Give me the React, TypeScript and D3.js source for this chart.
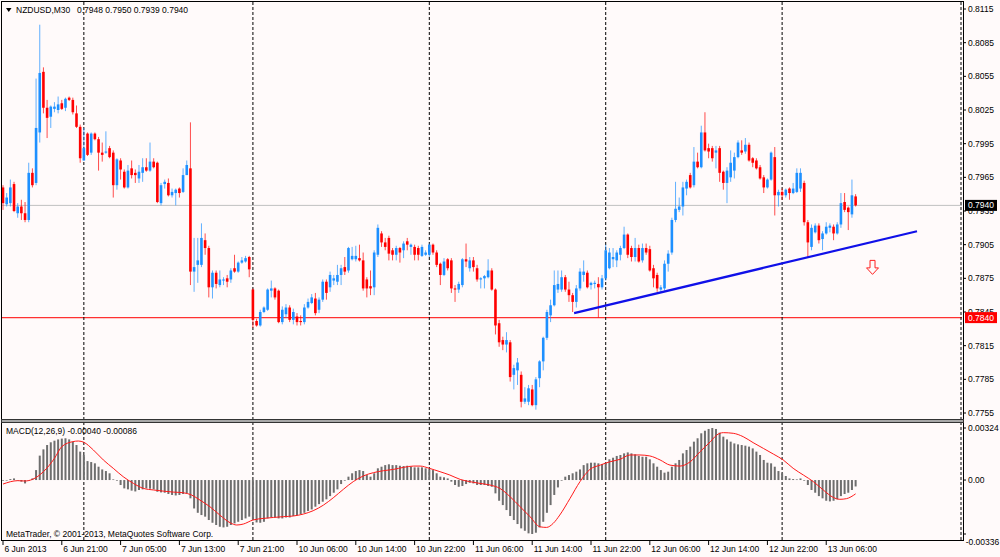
import React, { useEffect, useRef } from "react";
import * as d3 from "d3";

// NZDUSD M30, 6 Jun 13:00 .. 13 Jun 10:00 (233 bars)
const opens = [
  0.7956, 0.7941, 0.7942, 0.7959, 0.7933, 0.7939, 0.7933, 0.7927, 0.7969, 0.7960,
  0.8005, 0.8059, 0.8027, 0.8019, 0.8026, 0.8025, 0.8031, 0.8027, 0.8036, 0.8034,
  0.8022, 0.8010, 0.7980, 0.8004, 0.7987, 0.8004, 0.7999, 0.7987, 0.7987, 0.7991,
  0.7987, 0.7958, 0.7980, 0.7970, 0.7956, 0.7973, 0.7969, 0.7964, 0.7969, 0.7974,
  0.7971, 0.7979, 0.7978, 0.7942, 0.7959, 0.7960, 0.7949, 0.7951, 0.7955, 0.7952,
  0.7967, 0.7973, 0.7881, 0.7887, 0.7887, 0.7909, 0.7902, 0.7867, 0.7880, 0.7869,
  0.7873, 0.7875, 0.7874, 0.7884, 0.7881, 0.7889, 0.7890, 0.7894, 0.7865, 0.7837,
  0.7833, 0.7845, 0.7847, 0.7864, 0.7866, 0.7864, 0.7836, 0.7843, 0.7849, 0.7838,
  0.7841, 0.7837, 0.7836, 0.7849, 0.7853, 0.7857, 0.7847, 0.7856, 0.7872, 0.7867,
  0.7873, 0.7872, 0.7878, 0.7885, 0.7882, 0.7892, 0.7892, 0.7893, 0.7891, 0.7874,
  0.7868, 0.7867, 0.7896, 0.7915, 0.7907, 0.7911, 0.7900, 0.7896, 0.7902, 0.7900,
  0.7908, 0.7903, 0.7903, 0.7902, 0.7895, 0.7896, 0.7896, 0.7905, 0.7898, 0.7888,
  0.7878, 0.7892, 0.7891, 0.7866, 0.7865, 0.7869, 0.7892, 0.7884, 0.7891, 0.7884,
  0.7874, 0.7875, 0.7876, 0.7882, 0.7865, 0.7835, 0.7820, 0.7816, 0.7818, 0.7789,
  0.7793, 0.7789, 0.7765, 0.7765, 0.7776, 0.7762, 0.7786, 0.7801, 0.7822, 0.7842,
  0.7851, 0.7865, 0.7865, 0.7876, 0.7865, 0.7860, 0.7854, 0.7866, 0.7878, 0.7880,
  0.7869, 0.7870, 0.7870, 0.7867, 0.7875, 0.7884, 0.7892, 0.7891, 0.7896, 0.7902,
  0.7914, 0.7902, 0.7894, 0.7902, 0.7891, 0.7902, 0.7901, 0.7884, 0.7878, 0.7865,
  0.7866, 0.7888, 0.7898, 0.7927, 0.7936, 0.7939, 0.7955, 0.7967, 0.7958, 0.7979,
  0.7974, 0.8005, 0.7991, 0.7991, 0.7987, 0.7991, 0.7970, 0.7960, 0.7965, 0.7971,
  0.7983, 0.7989, 0.7988, 0.7994, 0.7982, 0.7980, 0.7974, 0.7965, 0.7956, 0.7963,
  0.7983, 0.7949, 0.7952, 0.7949, 0.7955, 0.7951, 0.7952, 0.7955, 0.7960, 0.7925,
  0.7903, 0.7916, 0.7922, 0.7910, 0.7915, 0.7920, 0.7921, 0.7915, 0.7923, 0.7943,
  0.7938, 0.7932, 0.7948,
];
const highs = [
  0.7958, 0.7951, 0.7963, 0.7961, 0.7942, 0.7945, 0.7943, 0.7978, 0.7973, 0.8053,
  0.8101, 0.8063, 0.8034, 0.8029, 0.8032, 0.8037, 0.8034, 0.8036, 0.8037, 0.8036,
  0.8029, 0.8012, 0.8009, 0.8005, 0.8005, 0.8005, 0.8001, 0.7996, 0.8006, 0.7993,
  0.7989, 0.7982, 0.7982, 0.7972, 0.7976, 0.7980, 0.7972, 0.7976, 0.7982, 0.7982,
  0.7996, 0.7982, 0.7979, 0.7960, 0.7963, 0.7964, 0.7955, 0.7955, 0.7956, 0.7973,
  0.7980, 0.8014, 0.7911, 0.7911, 0.7924, 0.7915, 0.7904, 0.7882, 0.7882, 0.7882,
  0.7876, 0.7878, 0.7884, 0.7896, 0.7890, 0.7894, 0.7895, 0.7895, 0.7866, 0.7839,
  0.7847, 0.7850, 0.7866, 0.7873, 0.7867, 0.7865, 0.7850, 0.7852, 0.7851, 0.7848,
  0.7844, 0.7842, 0.7852, 0.7857, 0.7861, 0.7862, 0.7858, 0.7874, 0.7874, 0.7881,
  0.7878, 0.7887, 0.7887, 0.7894, 0.7903, 0.7903, 0.7904, 0.7905, 0.7898, 0.7876,
  0.7882, 0.7900, 0.7923, 0.7917, 0.7911, 0.7913, 0.7902, 0.7904, 0.7903, 0.7908,
  0.7911, 0.7906, 0.7905, 0.7904, 0.7905, 0.7900, 0.7906, 0.7906, 0.7900, 0.7889,
  0.7893, 0.7893, 0.7893, 0.7869, 0.7872, 0.7893, 0.7906, 0.7894, 0.7894, 0.7887,
  0.7876, 0.7878, 0.7892, 0.7884, 0.7866, 0.7838, 0.7823, 0.7827, 0.7820, 0.7798,
  0.7804, 0.7792, 0.7778, 0.7780, 0.7780, 0.7787, 0.7802, 0.7823, 0.7847, 0.7856,
  0.7882, 0.7882, 0.7882, 0.7878, 0.7872, 0.7862, 0.7869, 0.7884, 0.7891, 0.7882,
  0.7872, 0.7873, 0.7876, 0.7878, 0.7905, 0.7902, 0.7902, 0.7900, 0.7904, 0.7921,
  0.7915, 0.7904, 0.7911, 0.7905, 0.7906, 0.7906, 0.7904, 0.7887, 0.7880, 0.7869,
  0.7891, 0.7900, 0.7929, 0.7961, 0.7947, 0.7961, 0.7963, 0.7969, 0.7992, 0.7987,
  0.8011, 0.8023, 0.7995, 0.7993, 0.7993, 0.7993, 0.7971, 0.7974, 0.7989, 0.7987,
  0.7998, 0.7998, 0.8000, 0.7996, 0.7983, 0.7982, 0.7976, 0.7967, 0.7964, 0.7988,
  0.7992, 0.7954, 0.7955, 0.7955, 0.7956, 0.7960, 0.7973, 0.7973, 0.7962, 0.7927,
  0.7923, 0.7924, 0.7924, 0.7917, 0.7925, 0.7924, 0.7923, 0.7925, 0.7951, 0.7951,
  0.7939, 0.7963, 0.7950,
];
const lows = [
  0.7936, 0.7939, 0.7939, 0.7934, 0.7929, 0.7927, 0.7925, 0.7925, 0.7956, 0.7958,
  0.7996, 0.8022, 0.8000, 0.8009, 0.8023, 0.8022, 0.8025, 0.8024, 0.8033, 0.8021,
  0.8009, 0.7978, 0.7980, 0.7984, 0.7985, 0.7998, 0.7971, 0.7979, 0.7986, 0.7982,
  0.7947, 0.7954, 0.7963, 0.7955, 0.7955, 0.7964, 0.7960, 0.7960, 0.7961, 0.7970,
  0.7970, 0.7973, 0.7942, 0.7940, 0.7955, 0.7948, 0.7947, 0.7940, 0.7947, 0.7951,
  0.7967, 0.7869, 0.7863, 0.7871, 0.7885, 0.7896, 0.7858, 0.7857, 0.7866, 0.7867,
  0.7869, 0.7867, 0.7871, 0.7880, 0.7880, 0.7888, 0.7889, 0.7876, 0.7831, 0.7832,
  0.7832, 0.7844, 0.7846, 0.7858, 0.7856, 0.7835, 0.7834, 0.7840, 0.7836, 0.7834,
  0.7833, 0.7833, 0.7834, 0.7848, 0.7852, 0.7842, 0.7844, 0.7854, 0.7856, 0.7863,
  0.7869, 0.7869, 0.7869, 0.7878, 0.7880, 0.7891, 0.7890, 0.7890, 0.7864, 0.7858,
  0.7860, 0.7860, 0.7894, 0.7903, 0.7900, 0.7891, 0.7891, 0.7891, 0.7889, 0.7893,
  0.7900, 0.7896, 0.7891, 0.7891, 0.7894, 0.7895, 0.7894, 0.7896, 0.7885, 0.7869,
  0.7877, 0.7882, 0.7862, 0.7854, 0.7862, 0.7867, 0.7885, 0.7881, 0.7881, 0.7872,
  0.7866, 0.7866, 0.7875, 0.7864, 0.7825, 0.7814, 0.7811, 0.7809, 0.7783, 0.7776,
  0.7780, 0.7760, 0.7763, 0.7762, 0.7761, 0.7758, 0.7778, 0.7793, 0.7820, 0.7836,
  0.7850, 0.7862, 0.7863, 0.7863, 0.7854, 0.7845, 0.7849, 0.7864, 0.7872, 0.7866,
  0.7865, 0.7866, 0.7840, 0.7865, 0.7873, 0.7883, 0.7885, 0.7885, 0.7891, 0.7901,
  0.7893, 0.7890, 0.7890, 0.7889, 0.7889, 0.7896, 0.7881, 0.7867, 0.7863, 0.7862,
  0.7864, 0.7881, 0.7896, 0.7925, 0.7934, 0.7931, 0.7949, 0.7955, 0.7956, 0.7973,
  0.7973, 0.7988, 0.7982, 0.7979, 0.7973, 0.7961, 0.7954, 0.7942, 0.7961, 0.7964,
  0.7982, 0.7985, 0.7986, 0.7979, 0.7974, 0.7972, 0.7963, 0.7951, 0.7955, 0.7962,
  0.7931, 0.7939, 0.7945, 0.7947, 0.7945, 0.7950, 0.7951, 0.7952, 0.7922, 0.7894,
  0.7900, 0.7915, 0.7906, 0.7900, 0.7914, 0.7916, 0.7909, 0.7914, 0.7920, 0.7934,
  0.7918, 0.7929, 0.7939,
];
const closes = [
  0.7942, 0.7947, 0.7956, 0.7935, 0.7939, 0.7933, 0.7927, 0.7969, 0.7958, 0.8009,
  0.8058, 0.8027, 0.8018, 0.8028, 0.8028, 0.8030, 0.8026, 0.8035, 0.8034, 0.8023,
  0.8010, 0.7982, 0.7991, 0.7985, 0.8004, 0.7999, 0.7987, 0.7985, 0.7988, 0.7983,
  0.7958, 0.7981, 0.7972, 0.7956, 0.7971, 0.7967, 0.7967, 0.7970, 0.7974, 0.7971,
  0.7979, 0.7974, 0.7943, 0.7958, 0.7961, 0.7949, 0.7952, 0.7954, 0.7951, 0.7967,
  0.7976, 0.7881, 0.7885, 0.7891, 0.7911, 0.7902, 0.7867, 0.7880, 0.7870, 0.7874,
  0.7874, 0.7872, 0.7882, 0.7881, 0.7889, 0.7891, 0.7893, 0.7883, 0.7838, 0.7833,
  0.7845, 0.7849, 0.7865, 0.7866, 0.7858, 0.7836, 0.7847, 0.7849, 0.7838, 0.7845,
  0.7836, 0.7836, 0.7849, 0.7854, 0.7858, 0.7844, 0.7856, 0.7872, 0.7862, 0.7878,
  0.7875, 0.7878, 0.7884, 0.7881, 0.7902, 0.7895, 0.7895, 0.7891, 0.7866, 0.7866,
  0.7866, 0.7898, 0.7920, 0.7907, 0.7903, 0.7897, 0.7896, 0.7902, 0.7898, 0.7906,
  0.7905, 0.7905, 0.7896, 0.7896, 0.7903, 0.7898, 0.7905, 0.7898, 0.7887, 0.7878,
  0.7890, 0.7884, 0.7866, 0.7865, 0.7870, 0.7892, 0.7890, 0.7891, 0.7885, 0.7874,
  0.7875, 0.7877, 0.7882, 0.7865, 0.7833, 0.7818, 0.7816, 0.7820, 0.7787, 0.7795,
  0.7800, 0.7765, 0.7768, 0.7777, 0.7762, 0.7785, 0.7801, 0.7822, 0.7845, 0.7851,
  0.7869, 0.7870, 0.7876, 0.7865, 0.7860, 0.7854, 0.7866, 0.7881, 0.7881, 0.7867,
  0.7871, 0.7871, 0.7867, 0.7875, 0.7900, 0.7898, 0.7894, 0.7898, 0.7902, 0.7914,
  0.7896, 0.7894, 0.7902, 0.7890, 0.7902, 0.7898, 0.7882, 0.7875, 0.7866, 0.7867,
  0.7888, 0.7897, 0.7927, 0.7937, 0.7939, 0.7956, 0.7961, 0.7956, 0.7979, 0.7974,
  0.8005, 0.7989, 0.7988, 0.7982, 0.7989, 0.7969, 0.7960, 0.7971, 0.7978, 0.7983,
  0.7996, 0.7987, 0.7994, 0.7980, 0.7978, 0.7973, 0.7964, 0.7956, 0.7963, 0.7987,
  0.7949, 0.7952, 0.7949, 0.7954, 0.7951, 0.7955, 0.7969, 0.7969, 0.7925, 0.7907,
  0.7920, 0.7922, 0.7909, 0.7915, 0.7921, 0.7922, 0.7915, 0.7923, 0.7942, 0.7936,
  0.7934, 0.7949, 0.7940,
];

// MACD(12,26,9) main values, one per bar
const macdMain = [
  -0.00004, 0.0, 0.00006, 0.0001, 0.0, -0.0001, -0.00021, -0.00004, 0.0001, 0.00062,
  0.00152, 0.00191, 0.00218, 0.00235, 0.00245, 0.00253, 0.00258, 0.0026, 0.00253, 0.00239,
  0.00218, 0.00177, 0.00156, 0.00118, 0.00112, 0.00104, 0.00083, 0.00066, 0.00056, 0.00042,
  0.00004, -0.00004, -0.00031, -0.00052, -0.00058, -0.00066, -0.00071, -0.00062, -0.00058, -0.00052,
  -0.00054, -0.00058, -0.00073, -0.00077, -0.00079, -0.00087, -0.00093, -0.00096, -0.00093, -0.00087,
  -0.00083, -0.00114, -0.00177, -0.00204, -0.00218, -0.00228, -0.00249, -0.00266, -0.0028, -0.00291,
  -0.00295, -0.00291, -0.0028, -0.0027, -0.0026, -0.00249, -0.00239, -0.00228, -0.00249, -0.00264,
  -0.00266, -0.0026, -0.00239, -0.00233, -0.00233, -0.00239, -0.00239, -0.00233, -0.00233, -0.00224,
  -0.00218, -0.00212, -0.00204, -0.00193, -0.00183, -0.00166, -0.0015, -0.00135, -0.0012, -0.001,
  -0.00079, -0.00058, -0.00025, -0.00004, 0.00021, 0.00042, 0.00056, 0.00062, 0.00056, 0.00031,
  0.00021, 0.00042, 0.00073, 0.00083, 0.00093, 0.00098, 0.00093, 0.00093, 0.00089, 0.00087,
  0.00089, 0.00083, 0.00079, 0.00079, 0.00079, 0.00073, 0.00066, 0.00062, 0.00042, 0.00021,
  0.00017, 0.0001, -0.0001, -0.00031, -0.00042, -0.00037, -0.00025, -0.00017, -0.00021, -0.00031,
  -0.00031, -0.00031, -0.00037, -0.00042, -0.00083, -0.00129, -0.00156, -0.00187, -0.00224, -0.00249,
  -0.00274, -0.00301, -0.00316, -0.00332, -0.00336, -0.00328, -0.00295, -0.0026, -0.00204, -0.00156,
  -0.00093, -0.00046, -0.00004, 0.00021, 0.00031, 0.00042, 0.00052, 0.00066, 0.00093, 0.00104,
  0.00108, 0.00108, 0.00104, 0.001, 0.00108, 0.00129, 0.00139, 0.0015, 0.00156, 0.00166,
  0.00172, 0.00166, 0.0016, 0.0015, 0.00145, 0.00145, 0.00129, 0.00104, 0.00083, 0.00062,
  0.00046, 0.00052, 0.00083, 0.00104, 0.00125, 0.00166, 0.00187, 0.00208, 0.00239, 0.0026,
  0.00291, 0.00307, 0.00318, 0.00324, 0.00318, 0.00295, 0.0027, 0.00253, 0.00239, 0.00228,
  0.00222, 0.00218, 0.00214, 0.00208, 0.00197, 0.00177, 0.00156, 0.00125, 0.00108, 0.00104,
  0.00083, 0.00056, 0.00042, 0.00025, 0.0001, 0.00006, 0.00004, 0.0001, -0.00004, -0.00031,
  -0.00062, -0.00079, -0.001, -0.00114, -0.00129, -0.00133, -0.00129, -0.0012, -0.001, -0.00087,
  -0.00079, -0.00062, -0.0004,
];

// signal line, read at these bar positions
const signalBars = [
  0, 4, 6, 8, 11, 14, 16, 19, 20.5, 22, 24.6, 27.3, 30, 32.7, 35.5, 38.2, 41, 43.6, 46.3, 49,
  51.3, 53.6, 56.3, 59, 61.8, 63.6, 65.4, 68, 70.8, 73.6, 76.3, 79, 81.7, 84.4, 87.2, 90, 92.6,
  95.3, 98, 100.8, 103.5, 106.2, 109, 111.7, 113.5, 116, 118.9, 121.6, 124.4, 127, 129.8, 132.5,
  135.2, 138, 140.7, 143.4, 146.1, 147.9, 149.7, 151.5, 154.3, 157, 159.7, 162.5, 165.2, 167.9,
  170.6, 173.3, 176, 178.8, 181.5, 184.2, 187, 189.7, 192.5, 194.2, 196, 198.7, 201.4, 204.1,
  206.9, 209.6, 212.3, 215, 217.8, 220.5, 223.2, 225.9, 227.7, 229.5, 232,
];
const signalValues = [
  -0.00025, -0.00004, -0.00006, 0.00004, 0.00052, 0.00135, 0.00208, 0.00239, 0.00243, 0.00235,
  0.00187, 0.00125, 0.00073, 0.00021, -0.00021, -0.00052, -0.00062, -0.00069, -0.00075, -0.00079,
  -0.00093, -0.00125, -0.00166, -0.00218, -0.00266, -0.0028, -0.00274, -0.00249, -0.00239, -0.00233,
  -0.00228, -0.00224, -0.00212, -0.00191, -0.00156, -0.00108, -0.00058, -0.0001, 0.00025, 0.00046,
  0.00058, 0.00066, 0.00079, 0.00087, 0.00087, 0.00073, 0.00052, 0.00031, 0.00004, -0.0001,
  -0.00021, -0.00031, -0.00052, -0.00104, -0.00166, -0.00228, -0.00291, -0.00295, -0.0027, -0.00218,
  -0.00114, -0.0001, 0.00066, 0.00093, 0.00114, 0.00129, 0.00156, 0.00156, 0.0015, 0.00125,
  0.00093, 0.00087, 0.00114, 0.00177, 0.00239, 0.0028, 0.00295, 0.00291, 0.0027, 0.00233,
  0.00197, 0.00162, 0.00125, 0.00073, 0.00031, -0.0001, -0.00062, -0.00108, -0.0012, -0.00116,
  -0.00086,
];

const timeLabelBars = [0, 16, 32, 48, 64, 80, 96, 112, 128, 144, 160, 176, 192, 208, 224];
const timeLabels = [
  "6 Jun 2013", "6 Jun 21:00", "7 Jun 05:00", "7 Jun 13:00", "7 Jun 21:00", "10 Jun 06:00",
  "10 Jun 14:00", "10 Jun 22:00", "11 Jun 06:00", "11 Jun 14:00", "11 Jun 22:00",
  "12 Jun 06:00", "12 Jun 14:00", "12 Jun 22:00", "13 Jun 06:00",
];
const daySeparatorBars = [22, 68, 116, 164, 212];

const priceTicks = [0.8115, 0.8085, 0.8055, 0.8025, 0.7995, 0.7965, 0.7935, 0.7905, 0.7875, 0.7845, 0.7815, 0.7785, 0.7755];
const macdTicks = [0.00324, 0, -0.00336];
const macdTickLabels = ["0.00324", "0.00", "-0.00336"];

const bidPrice = 0.794;
const levelPrice = 0.784;
const trendBars = [155.4, 248.7];
const trendPrices = [0.7844, 0.7917];
const arrowBars = [236.6];
const arrowPrices = [0.7891];

const App: React.FC = () => {
  const svgRef = useRef<SVGSVGElement | null>(null);

  useEffect(() => {
    document.body.style.margin = "0";
    const font = "'Liberation Sans', Arial, sans-serif";
    const fs = 8.5;
    const svg = d3.select(svgRef.current);
    svg.selectAll("*").remove();

    const x = d3.scaleLinear().domain([0, 261]).range([3, 962.2]);
    const y = d3.scaleLinear().domain([0.7755, 0.8115]).range([413, 9]);
    const ym = d3.scaleLinear().domain([-0.00336, 0.00324]).range([534, 428]);

    svg.append("rect").attr("width", 1000).attr("height", 557).attr("fill", "#fffafa");

    // bid line and the 0.7840 level
    svg.append("line")
      .attr("x1", 2).attr("x2", 962)
      .attr("y1", y(bidPrice)).attr("y2", y(bidPrice))
      .attr("stroke", "#c0c0c0").attr("stroke-width", 1);
    svg.append("line")
      .attr("x1", 2).attr("x2", 962)
      .attr("y1", y(levelPrice)).attr("y2", y(levelPrice))
      .attr("stroke", "#ff3030").attr("stroke-width", 1.2);

    // period separators
    const sepX = daySeparatorBars.map((b) => x(b));
    svg.append("g").selectAll("line").data([...sepX, 961]).enter().append("line")
      .attr("x1", (d) => d).attr("x2", (d) => d)
      .attr("y1", 2).attr("y2", 540)
      .attr("stroke", "#000").attr("stroke-width", 1)
      .attr("stroke-dasharray", "3,2");

    // candles
    const bars = d3.range(closes.length).map((i) => ({
      i, o: opens[i], h: highs[i], l: lows[i], c: closes[i],
    }));
    const color = (d: any) => (d.c >= d.o ? "#1e90ff" : "#ff0000");
    const cg = svg.append("g");
    cg.selectAll("line").data(bars).enter().append("line")
      .attr("x1", (d) => x(d.i)).attr("x2", (d) => x(d.i))
      .attr("y1", (d) => y(d.h)).attr("y2", (d) => y(d.l))
      .attr("stroke", color).attr("stroke-opacity", 0.7).attr("stroke-width", 1);
    cg.selectAll("rect").data(bars).enter().append("rect")
      .attr("x", (d) => x(d.i) - 1.3).attr("width", 2.6)
      .attr("y", (d) => y(Math.max(d.o, d.c)))
      .attr("height", (d) => Math.max(1, Math.abs(y(d.o) - y(d.c))))
      .attr("fill", color);

    // trend line
    svg.append("line")
      .attr("x1", x(trendBars[0])).attr("y1", y(trendPrices[0]))
      .attr("x2", x(trendBars[1])).attr("y2", y(trendPrices[1]))
      .attr("stroke", "#1010e8").attr("stroke-width", 2.2);

    // sell arrow
    svg.append("g").selectAll("path").data(arrowBars).enter().append("path")
      .attr("transform", (d, i) => `translate(${x(d)},${y(arrowPrices[i])})`)
      .attr("d", "M-2.5,0 H2.5 V7.5 H6 L0,14 L-6,7.5 H-2.5 Z")
      .attr("fill", "#fffafa").attr("stroke", "#ff2020").attr("stroke-width", 1);

    // MACD histogram
    svg.append("g").selectAll("rect").data(macdMain).enter().append("rect")
      .attr("x", (d, i) => x(i) - 1).attr("width", 2)
      .attr("y", (d) => Math.min(ym(d), ym(0)))
      .attr("height", (d) => Math.max(0.6, Math.abs(ym(d) - ym(0))))
      .attr("fill", "#6e6e6e");

    const signal = d3.line<number>()
      .x((d, i) => x(signalBars[i]))
      .y((d) => ym(d))
      .curve(d3.curveMonotoneX);
    svg.append("path").attr("d", signal(signalValues) as string)
      .attr("fill", "none").attr("stroke", "#ff1a1a").attr("stroke-width", 1);

    // frames
    svg.append("rect").attr("x", 1.5).attr("y", 1.5).attr("width", 962).attr("height", 539)
      .attr("fill", "none").attr("stroke", "#000");
    svg.append("rect").attr("x", 1.5).attr("y", 419.5).attr("width", 962).attr("height", 3)
      .attr("fill", "#a8a8a8").attr("stroke", "#333").attr("stroke-width", 1);

    // right axis
    const axis = svg.append("g").attr("font-family", font).attr("font-size", fs).attr("fill", "#000");
    axis.selectAll("line.p").data(priceTicks).enter().append("line")
      .attr("x1", 963).attr("x2", 966).attr("y1", (d) => y(d)).attr("y2", (d) => y(d))
      .attr("stroke", "#000");
    axis.selectAll("text.p").data(priceTicks).enter().append("text")
      .attr("x", 968).attr("y", (d) => y(d) + 3.1).text((d) => d.toFixed(4));
    axis.selectAll("line.m").data(macdTicks).enter().append("line")
      .attr("x1", 963).attr("x2", 966).attr("y1", (d) => ym(d)).attr("y2", (d) => ym(d))
      .attr("stroke", "#000");
    // the lowest label sits on the window's bottom edge, as in the terminal
    axis.selectAll("text.m").data(macdTicks).enter().append("text")
      .attr("x", (d, i) => (macdTickLabels[i].startsWith("-") ? 965.7 : 968))
      .attr("y", (d, i) => (i === macdTicks.length - 1 ? 544.5 : ym(d) + 3.1))
      .text((d, i) => macdTickLabels[i]);

    const tag = (price: number, bg: string) => {
      axis.append("rect").attr("x", 965).attr("y", y(price) - 5.5).attr("width", 32).attr("height", 11)
        .attr("fill", bg);
      axis.append("text").attr("x", 968).attr("y", y(price) + 3.1).attr("fill", "#fff")
        .text(price.toFixed(4));
    };
    tag(bidPrice, "#000");
    tag(levelPrice, "#ff0000");

    // time axis
    const tx = svg.append("g").attr("font-family", font).attr("font-size", fs);
    tx.selectAll("line").data(timeLabelBars).enter().append("line")
      .attr("x1", (d) => x(d)).attr("x2", (d) => x(d)).attr("y1", 541).attr("y2", 545)
      .attr("stroke", "#000");
    tx.selectAll("text").data(timeLabelBars).enter().append("text")
      .attr("x", (d) => x(d) + 1.5).attr("y", 551.5).text((d, i) => timeLabels[i]);

    // titles
    const tt = svg.append("g").attr("font-family", font).attr("font-size", fs).attr("fill", "#000");
    tt.append("path").attr("d", "M6,8 H11.5 L8.75,12 Z").attr("fill", "#000");
    tt.append("text").attr("x", 16).attr("y", 13).text("NZDUSD,M30");
    tt.append("text").attr("x", 77).attr("y", 13)
      .text([opens[opens.length - 1], highs[highs.length - 1], lows[lows.length - 1], closes[closes.length - 1]]
        .map((v) => v.toFixed(4)).join(" "));
    tt.append("text").attr("x", 6).attr("y", 433.5)
      .text(`MACD(12,26,9) ${macdMain[macdMain.length - 1].toFixed(5)} ${signalValues[signalValues.length - 1].toFixed(5)}`);
    tt.append("text").attr("x", 6).attr("y", 537).text("MetaTrader, © 2001-2013, MetaQuotes Software Corp.");
  }, []);

  return <svg ref={svgRef} width={1000} height={557} style={{ display: "block" }} />;
};

export default App;
